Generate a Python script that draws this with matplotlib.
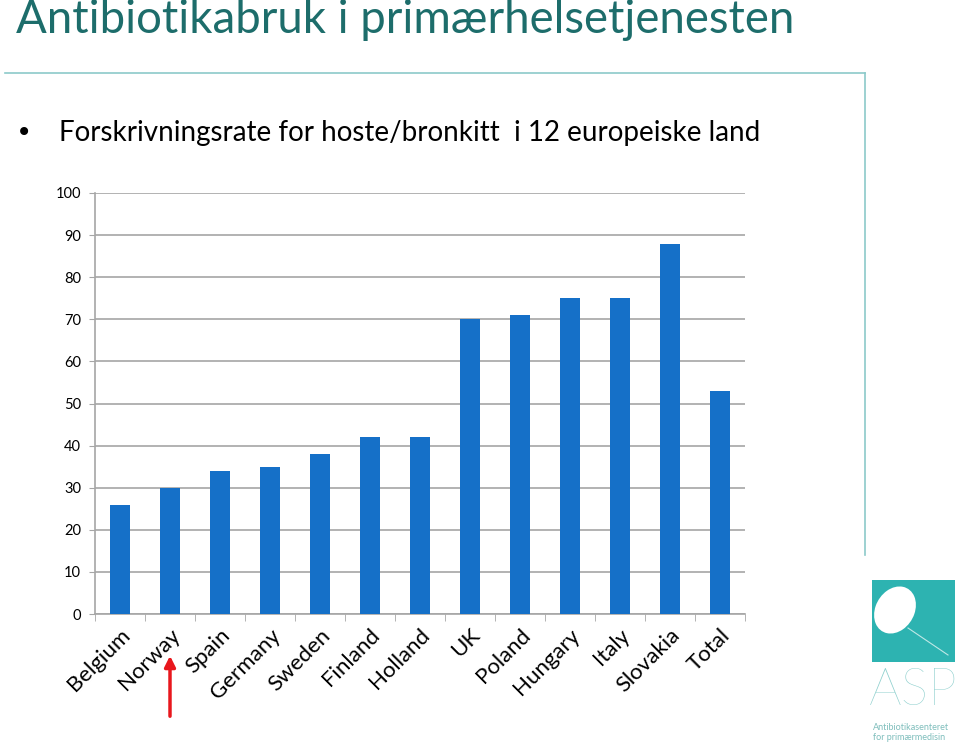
import matplotlib
matplotlib.use("Agg")
import matplotlib.pyplot as plt
from matplotlib.patches import Rectangle, Ellipse, FancyArrowPatch
from matplotlib.lines import Line2D
import numpy as np

countries = ["Belgium", "Norway", "Spain", "Germany", "Sweden", "Finland", "Holland",
             "UK", "Poland", "Hungary", "Italy", "Slovakia", "Total"]
rates = [26, 30, 34, 35, 38, 42, 42, 70, 71, 75, 75, 88, 53]
yticks = [0, 10, 20, 30, 40, 50, 60, 70, 80, 90, 100]

title = "Antibiotikabruk i primærhelsetjenesten"
subtitle = "Forskrivningsrate for hoste/bronkitt  i 12 europeiske land"

W, H = 959, 747
fig = plt.figure(figsize=(W / 100, H / 100), dpi=100)
fig.patch.set_facecolor("white")
FONT = "Lato"

def fx(px):
    return px / W

def fy(py):
    return 1 - py / H

# Title
fig.text(fx(16), fy(20), title, fontsize=32.8, color="#1d6d6b", family=FONT,
         ha="left", va="center")
# Frame lines
fig.add_artist(Line2D([fx(5), fx(865)], [fy(73), fy(73)], color="#8ccaca", lw=1.2))
fig.add_artist(Line2D([fx(865), fx(865)], [fy(73), fy(555)], color="#8ccaca", lw=1.2))

# Bullet + subtitle
fig.text(fx(16), fy(133), "•", fontsize=20, color="black", family="DejaVu Sans",
         ha="left", va="center")
fig.text(fx(59), fy(133), subtitle, fontsize=20, color="black", family=FONT,
         ha="left", va="center")

# Chart axes
ax = fig.add_axes([fx(95), 1 - 614 / H, 650 / W, 421 / H])
x = np.arange(len(countries))
ax.bar(x, rates, width=0.4, color="#1570c8", zorder=3)
ax.set_xlim(-0.5, len(countries) - 0.5)
ax.set_ylim(0, 100)
ax.set_yticks(yticks)
ax.set_yticklabels([str(v) for v in yticks], fontsize=10.5, family=FONT)
ax.yaxis.grid(True, color="#a6a6a6", lw=1.2, zorder=0)
ax.tick_params(axis="y", length=4, color="#a6a6a6", pad=6)
ax.set_xticks(x)
ax.set_xticklabels(countries, rotation=45, ha="right", rotation_mode="anchor",
                   fontsize=16, family=FONT)
ax.tick_params(axis="x", which="major", length=0, pad=8)
ax.set_xticks(np.arange(len(countries) + 1) - 0.5, minor=True)
ax.tick_params(axis="x", which="minor", length=5, color="#a6a6a6")
for s in ["top", "right"]:
    ax.spines[s].set_visible(False)
for s in ["left", "bottom"]:
    ax.spines[s].set_color("#a6a6a6")
    ax.spines[s].set_linewidth(1.2)

# Red arrow under Norway
arrow = FancyArrowPatch((fx(170), fy(719)), (fx(170), fy(653)),
                        transform=fig.transFigure, arrowstyle="-|>",
                        mutation_scale=16, color="#e8171d", lw=2.5)
fig.add_artist(arrow)

# ASP logo
fig.add_artist(Rectangle((fx(872), fy(662)), 83 / W, 82 / H, transform=fig.transFigure,
                         facecolor="#2db3b1", edgecolor="none"))
fig.add_artist(Ellipse((fx(895), fy(610)), 40 / W, 48 / H, transform=fig.transFigure,
                       facecolor="white", edgecolor="none", angle=-15))
fig.add_artist(Line2D([fx(908), fx(948)], [fy(628), fy(655)], color="#bfe8e6", lw=0.8))
fig.text(fx(913), fy(691), "ASP", fontsize=37, color="#8fd0ce", family=FONT,
         ha="center", va="center", fontweight="light")
fig.text(fx(873), fy(727), "Antibiotikasenteret", fontsize=6.5, color="#7fbebc",
         family=FONT, ha="left", va="center")
fig.text(fx(873), fy(737), "for primærmedisin", fontsize=6.5, color="#7fbebc",
         family=FONT, ha="left", va="center")

fig.savefig("out.png", dpi=100, facecolor="white")
